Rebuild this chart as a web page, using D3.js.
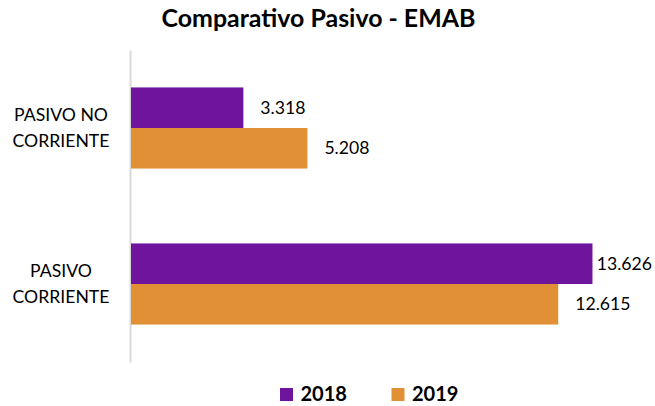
<!DOCTYPE html>
<html><head><meta charset="utf-8">
<script src="https://cdn.jsdelivr.net/npm/d3@7"></script>
<style>body{margin:0;background:#fff}svg{display:block}</style>
</head><body>
<script>
const categories = ["PASIVO NO CORRIENTE", "PASIVO CORRIENTE"];
const categoryLines = [["PASIVO NO", "CORRIENTE"], ["PASIVO", "CORRIENTE"]];
const seriesNames = ["2018", "2019"];
const values2018 = [3.318, 13.626];
const values2019 = [5.208, 12.615];
const seriesColors = ["#6f159d", "#e19036"];
const titleText = "Comparativo Pasivo - EMAB";

const W = 655, H = 406;
const FONT = "Lato, 'Open Sans', sans-serif";
const svg = d3.select("body").append("svg").attr("width", W).attr("height", H)
  .style("font-family", FONT);

function fitSize(text, weight, target) {
  const t = svg.append("text").attr("font-size", 20).attr("font-weight", weight).text(text);
  const w = t.node().getComputedTextLength();
  t.remove();
  return 20 * target / w;
}
const labelSize = fitSize("CORRIENTE", "normal", 97);
const titleSize = fitSize(titleText, "bold", 314);
const legendSize = fitSize("2018", "bold", 46.5);

const x = d3.scaleLinear().domain([0, 15]).range([131, 639]);
const y = d3.scaleBand().domain(categories).range([50, 362]).paddingInner(0.48).paddingOuter(0.24);
const ySub = d3.scaleBand().domain(seriesNames).range([0, y.bandwidth()]);

// title
svg.append("text").attr("x", 318.5).attr("y", 27).attr("text-anchor", "middle")
  .attr("font-weight", "bold").attr("font-size", titleSize).attr("fill", "#000").text(titleText);

// axis
const axis = svg.append("g").attr("transform", "translate(130,0)")
  .call(d3.axisLeft(y).tickSize(0).tickSizeOuter(0));
axis.select(".domain").attr("stroke", "#d9d9d9").attr("stroke-width", 2);
axis.selectAll(".tick text").each(function(d, i) {
  const t = d3.select(this).text(null).attr("x", -69).attr("text-anchor", "middle")
    .attr("font-size", labelSize).attr("font-family", FONT).attr("fill", "#000").attr("dy", null);
  categoryLines[i].forEach((ln, j) => {
    t.append("tspan").attr("x", -69).attr("y", j === 0 ? -13 : 13).attr("dy", "0.35em").text(ln);
  });
});

const data = categories.map((c, i) => ({cat: c, vals: [values2018[i], values2019[i]]}));
const groups = svg.append("g").selectAll("g").data(data).join("g")
  .attr("transform", d => `translate(0,${y(d.cat)})`);

groups.selectAll("rect").data(d => d.vals.map((v, k) => ({v, s: seriesNames[k], k})))
  .join("rect")
  .attr("x", x(0)).attr("y", d => ySub(d.s))
  .attr("width", d => x(d.v) - x(0)).attr("height", ySub.bandwidth())
  .attr("fill", d => seriesColors[d.k]);

const fmt = d3.format(".3f");
groups.selectAll("text.val").data(d => d.vals.map((v, k) => ({v, s: seriesNames[k], k})))
  .join("text").attr("class", "val")
  .attr("font-size", labelSize).attr("fill", "#000")
  .attr("y", d => ySub(d.s) + ySub.bandwidth() / 2).attr("dy", "0.35em")
  .text(d => fmt(d.v))
  .attr("x", function(d) {
    const w = this.getComputedTextLength();
    return Math.min(x(d.v) + 17, 652 - w);
  });

// legend
const legendX = [280, 391.5];
const lg = svg.append("g").selectAll("g").data(seriesNames).join("g")
  .attr("transform", (d, i) => `translate(${legendX[i]},388)`);
lg.append("rect").attr("width", 13).attr("height", 13).attr("fill", (d, i) => seriesColors[i]);
lg.append("text").attr("x", 20.5).attr("y", 13).attr("font-weight", "bold")
  .attr("font-size", legendSize).attr("fill", "#000").text(d => d);
</script>
</body></html>
